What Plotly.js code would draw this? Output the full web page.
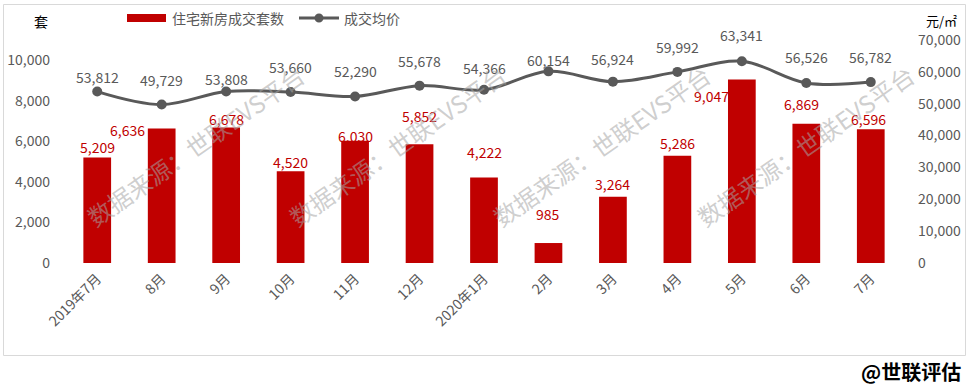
<!DOCTYPE html>
<html>
<head>
<meta charset="utf-8">
<script src="https://cdn.plot.ly/plotly-3.0.1.min.js"></script>
<style>
html,body{margin:0;padding:0;background:#fff;}
#chart{width:969px;height:388px;}
</style>
</head>
<body>
<div id="chart"></div>
<script>
// ---- data ----
const categories = ['2019年7月','8月','9月','10月','11月','12月','2020年1月','2月','3月','4月','5月','6月','7月'];
const units = [5209, 6636, 6678, 4520, 6030, 5852, 4222, 985, 3264, 5286, 9047, 6869, 6596];
const prices = [53812, 49729, 53808, 53660, 52290, 55678, 54366, 60154, 56924, 59992, 63341, 56526, 56782];
const leftTicks = [0, 2000, 4000, 6000, 8000, 10000];
const rightTicks = [0, 10000, 20000, 30000, 40000, 50000, 60000, 70000];

// label offsets (pixels) — style only
const unitLabelShift = [[0,10],[-34,-2],[0,9],[0,9],[0,5],[0,28],[0,25],[0,29],[0,13],[0,13],[-30,-16],[-5,20],[-2,10]];
const priceLabelShift = [15,25,13,25,25,25,22,11,23,25,26,26,25];

const FONT = 'Noto Sans CJK SC, Noto Sans, sans-serif';
const GRAY = '#595959';
const RED = '#c00000';
const L = 65, R = 903, T = 40, B = 263;
const px = x => (x - L) / (R - L);
const py = y => (B - y) / (B - T);
const fmt = v => v.toLocaleString('en-US');

const traces = [
  {
    type: 'bar', x: categories, y: units, name: '住宅新房成交套数',
    marker: {color: RED}, width: 0.43, yaxis: 'y', hoverinfo: 'skip'
  },
  {
    type: 'scatter', mode: 'lines+markers', x: categories, y: prices, name: '成交均价',
    yaxis: 'y2', line: {color: GRAY, width: 3, shape: 'spline', smoothing: 1},
    marker: {color: GRAY, size: 10}, hoverinfo: 'skip'
  }
];

const annotations = [];
units.forEach((v, i) => {
  annotations.push({
    x: categories[i], y: v, xref: 'x', yref: 'y', text: fmt(v), showarrow: false,
    xanchor: 'center', yanchor: 'middle',
    xshift: unitLabelShift[i][0], yshift: unitLabelShift[i][1],
    font: {family: FONT, size: 14, color: RED}
  });
});
prices.forEach((v, i) => {
  annotations.push({
    x: categories[i], y: v, xref: 'x', yref: 'y2', text: fmt(v), showarrow: false,
    xanchor: 'center', yanchor: 'middle', yshift: priceLabelShift[i],
    font: {family: FONT, size: 14, color: GRAY}
  });
});
// axis unit titles
annotations.push({x: px(41), y: py(21), xref: 'paper', yref: 'paper', text: '套', showarrow: false,
  xanchor: 'center', yanchor: 'middle', font: {family: FONT, size: 14, color: '#000'}});
annotations.push({x: px(941), y: py(21), xref: 'paper', yref: 'paper', text: '元/㎡', showarrow: false,
  xanchor: 'center', yanchor: 'middle', font: {family: FONT, size: 13, color: '#000'}});
// legend text
annotations.push({x: px(170), y: py(18), xref: 'paper', yref: 'paper', text: '住宅新房成交套数', showarrow: false,
  xanchor: 'left', yanchor: 'middle', font: {family: FONT, size: 14, color: GRAY}});
annotations.push({x: px(342), y: py(18), xref: 'paper', yref: 'paper', text: '成交均价', showarrow: false,
  xanchor: 'left', yanchor: 'middle', font: {family: FONT, size: 14, color: GRAY}});
// watermarks
[195, 397, 601, 805].forEach(cx => {
  annotations.push({x: px(cx), y: py(145), xref: 'paper', yref: 'paper', text: '数据来源：世联EVS平台',
    showarrow: false, textangle: -35, xanchor: 'center', yanchor: 'middle',
    font: {family: FONT, size: 24, color: 'rgba(165,165,165,0.55)'}});
});
// signature
annotations.push({x: px(963), y: py(371), xref: 'paper', yref: 'paper', text: '<b>@世联评估</b>', showarrow: false,
  xanchor: 'right', yanchor: 'middle', font: {family: FONT, size: 20, color: '#000'}});

const shapes = [
  {type: 'rect', xref: 'paper', yref: 'paper', x0: px(3.5), x1: px(965.5), y0: py(355.5), y1: py(4.5),
    line: {color: '#d9d9d9', width: 1}, fillcolor: 'rgba(0,0,0,0)', layer: 'below'},
  {type: 'rect', xref: 'paper', yref: 'paper', x0: px(127), x1: px(166), y0: py(22), y1: py(14),
    line: {width: 0}, fillcolor: RED},
  {type: 'line', xref: 'paper', yref: 'paper', x0: px(299), x1: px(339), y0: py(18), y1: py(18),
    line: {color: GRAY, width: 3}},
  {type: 'circle', xref: 'paper', yref: 'paper', x0: px(314.5), x1: px(323.5), y0: py(22.5), y1: py(13.5),
    line: {width: 0}, fillcolor: GRAY}
];

const layout = {
  width: 969, height: 388,
  margin: {l: L, r: 969 - R, t: T, b: 388 - B, pad: 0, autoexpand: false},
  paper_bgcolor: '#fff', plot_bgcolor: '#fff',
  showlegend: false,
  font: {family: FONT, color: GRAY},
  xaxis: {
    type: 'category', range: [-0.5, categories.length - 0.5], tickangle: -45,
    showgrid: false, zeroline: false, showline: false, automargin: false,
    ticks: '', ticklabelstandoff: 4, tickfont: {family: FONT, size: 14, color: GRAY}, fixedrange: true
  },
  yaxis: {
    range: [0, 11000], tickvals: leftTicks, ticktext: leftTicks.map(fmt), automargin: false,
    showgrid: false, zeroline: false, showline: false, ticks: '',
    ticklabelstandoff: 14, tickfont: {family: FONT, size: 14, color: GRAY}
  },
  yaxis2: {
    range: [0, 70000], tickvals: rightTicks, ticktext: rightTicks.map(fmt), automargin: false,
    overlaying: 'y', side: 'right', showgrid: false, zeroline: false, showline: false, ticks: '',
    ticklabelstandoff: 14, tickfont: {family: FONT, size: 14, color: GRAY}
  },
  annotations: annotations,
  shapes: shapes
};

Plotly.newPlot('chart', traces, layout, {displayModeBar: false, staticPlot: true});
</script>
</body>
</html>
